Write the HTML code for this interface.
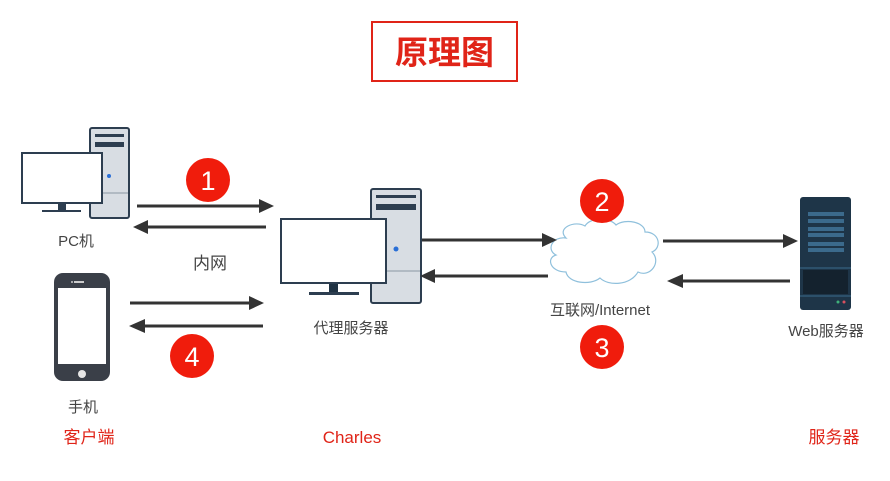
<!DOCTYPE html>
<html><head><meta charset="utf-8"><style>
body{margin:0;background:#fff;}
text{font-family:"Liberation Sans","Noto Sans CJK SC",sans-serif;}
</style></head><body>
<svg width="890" height="476" viewBox="0 0 890 476" xmlns="http://www.w3.org/2000/svg">
<defs>
<marker id="ah" markerWidth="10" markerHeight="8" refX="9" refY="4" orient="auto" markerUnits="userSpaceOnUse"><path d="M0,0 L22,4 L0,8z" transform="scale(0.45,1)"/></marker>
<g id="pc">
</g>
</defs>
<rect width="890" height="476" fill="#fff"/>
<rect x="372" y="22" width="145" height="59" fill="#fff" stroke="#e02418" stroke-width="2"/>
<text x="444.5" y="64" font-size="33" font-weight="bold" fill="#e02418" text-anchor="middle">原理图</text>

<!-- PC -->
<rect x="90" y="128" width="39" height="90" rx="2" fill="#d8dde3" stroke="#2d3e50" stroke-width="2"/>
<rect x="95" y="134" width="29" height="3" fill="#2d3e50"/>
<rect x="95" y="142" width="29" height="5" fill="#2d3e50"/>
<line x1="91" y1="193" x2="128" y2="193" stroke="#8a96a3" stroke-width="1"/>
<circle cx="109" cy="176" r="2" fill="#2a6fd6"/>
<rect x="22" y="153" width="80" height="50" fill="#fff" stroke="#2d3e50" stroke-width="2"/>
<rect x="58" y="204" width="8" height="7" fill="#2d3e50"/>
<rect x="42" y="210" width="39" height="2" fill="#2d3e50"/>

<!-- Proxy -->
<rect x="371" y="189" width="50" height="114" rx="2" fill="#d8dde3" stroke="#2d3e50" stroke-width="2"/>
<rect x="376" y="195" width="40" height="3" fill="#2d3e50"/>
<rect x="376" y="204" width="40" height="6" fill="#2d3e50"/>
<line x1="372" y1="271" x2="420" y2="271" stroke="#8a96a3" stroke-width="1"/>
<circle cx="396" cy="249" r="2.5" fill="#2a6fd6"/>
<rect x="281" y="219" width="105" height="64" fill="#fff" stroke="#2d3e50" stroke-width="2"/>
<rect x="329" y="284" width="9" height="9" fill="#1f3243"/>
<rect x="309" y="292" width="50" height="3" fill="#2d3e50"/>

<!-- Phone -->
<rect x="54" y="273" width="56" height="108" rx="9" fill="#3a3f48"/>
<rect x="58" y="288" width="48" height="76" fill="#fff"/>
<rect x="74" y="281" width="10" height="2" fill="#ccc"/>
<circle cx="72" cy="282" r="1" fill="#ccc"/>
<circle cx="82" cy="374" r="4" fill="#e6e6e6"/>

<!-- Cloud -->
<path d="M566,238 C556,228 575,220 585,226 C590,217 610,217 616,225 C625,218 645,222 645,232 C660,232 662,248 652,252 C662,262 650,278 638,272 C630,286 608,286 600,278 C590,286 568,283 566,272 C550,272 546,258 556,255 C546,250 552,236 566,238Z" fill="#fff" stroke="#8fc0dc" stroke-width="1.2"/>

<!-- Web server -->
<rect x="800" y="197" width="51" height="113" rx="3" fill="#1e3548"/>
<rect x="808" y="212" width="36" height="4" fill="#3b6a8c"/>
<rect x="808" y="219" width="36" height="4" fill="#3b6a8c"/>
<rect x="808" y="227" width="36" height="4" fill="#3b6a8c"/>
<rect x="808" y="233" width="36" height="4" fill="#3b6a8c"/>
<rect x="808" y="242" width="36" height="4" fill="#3b6a8c"/>
<rect x="808" y="248" width="36" height="4" fill="#3b6a8c"/>
<line x1="800" y1="268" x2="851" y2="268" stroke="#3b6a8c"/>
<rect x="803" y="270" width="45" height="24" fill="#14222e"/>
<line x1="800" y1="296" x2="851" y2="296" stroke="#3b6a8c"/>
<circle cx="838" cy="302" r="1.5" fill="#3fb07a"/>
<circle cx="844" cy="302" r="1.5" fill="#d8505f"/>

<!-- arrows -->
<g stroke="#333" stroke-width="3" fill="#333">
<line x1="137" y1="206" x2="265" y2="206"/><path d="M259,199 L274,206 L259,213z" stroke="none"/>
<line x1="142" y1="227" x2="266" y2="227"/><path d="M148,220 L133,227 L148,234z" stroke="none"/>
<line x1="130" y1="303" x2="255" y2="303"/><path d="M249,296 L264,303 L249,310z" stroke="none"/>
<line x1="138" y1="326" x2="263" y2="326"/><path d="M145,319 L129,326 L145,333z" stroke="none"/>
<line x1="422" y1="240" x2="548" y2="240"/><path d="M542,233 L557,240 L542,247z" stroke="none"/>
<line x1="428" y1="276" x2="548" y2="276"/><path d="M435,269 L420,276 L435,283z" stroke="none"/>
<line x1="663" y1="241" x2="789" y2="241"/><path d="M783,234 L798,241 L783,248z" stroke="none"/>
<line x1="676" y1="281" x2="790" y2="281"/><path d="M683,274 L667,281 L683,288z" stroke="none"/>
</g>

<!-- numbered circles -->
<g font-size="27" fill="#fff" text-anchor="middle">
<circle cx="208" cy="180" r="22" fill="#f01c0c"/><text x="208" y="190">1</text>
<circle cx="602" cy="201" r="22" fill="#f01c0c"/><text x="602" y="211">2</text>
<circle cx="602" cy="347" r="22" fill="#f01c0c"/><text x="602" y="357">3</text>
<circle cx="192" cy="356" r="22" fill="#f01c0c"/><text x="192" y="366">4</text>
</g>

<g font-size="15" fill="#444" text-anchor="middle">
<text x="76" y="246">PC机</text>
<text x="210" y="269" font-size="17">内网</text>
<text x="351" y="333">代理服务器</text>
<text x="600" y="315">互联网/Internet</text>
<text x="826" y="336">Web服务器</text>
<text x="83" y="412">手机</text>
</g>
<g font-size="17" fill="#e02418" text-anchor="middle">
<text x="89" y="443">客户端</text>
<text x="352" y="443">Charles</text>
<text x="834" y="443">服务器</text>
</g>
</svg>
</body></html>
